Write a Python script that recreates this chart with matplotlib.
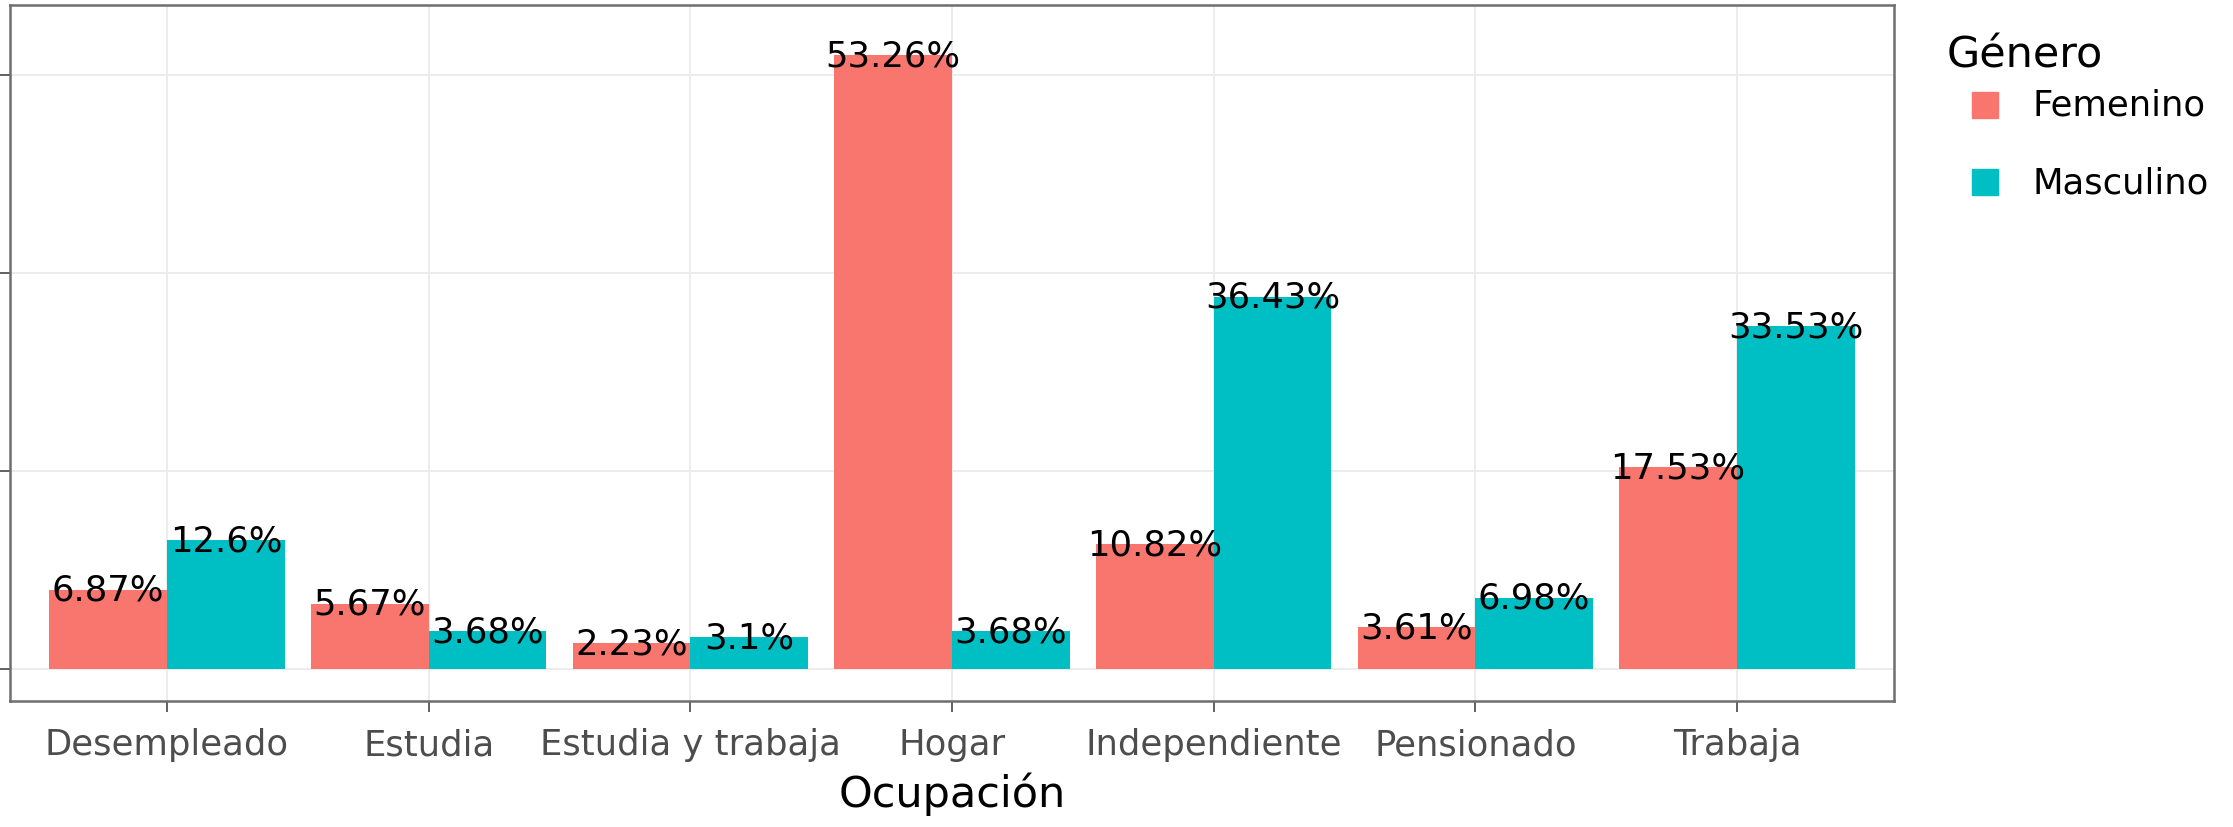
import numpy as np
import matplotlib.pyplot as plt
from matplotlib.patches import Rectangle

# ---------------------------
# Datos (conteos por ocupación y género)
# ---------------------------
ocupaciones = ["Desempleado", "Estudia", "Estudia y trabaja", "Hogar",
               "Independiente", "Pensionado", "Trabaja"]
generos = ["Femenino", "Masculino"]
femenino = [40, 33, 13, 310, 63, 21, 102]
masculino = [65, 19, 16, 19, 188, 36, 173]
etiq_fem = ["6.87%", "5.67%", "2.23%", "53.26%", "10.82%", "3.61%", "17.53%"]
etiq_mas = ["12.6%", "3.68%", "3.1%", "3.68%", "36.43%", "6.98%", "33.53%"]
colores = ["#F8766D", "#00BFC4"]
yticks = [0, 100, 200, 300]

W, H = 2233, 828
fig = plt.figure(figsize=(W / 100, H / 100), dpi=100)
ax = fig.add_axes([10 / W, 1 - 702 / H, (1894 - 10) / W, (702 - 6) / H])

x = np.arange(len(ocupaciones))
ancho = 0.45
series = [femenino, masculino]
etiquetas = [etiq_fem, etiq_mas]

for i, (vals, labs) in enumerate(zip(series, etiquetas)):
    pos = x + (i - 0.5) * ancho
    ax.bar(pos, vals, width=ancho, color=colores[i], zorder=2)
    for p, v, t in zip(pos, vals, labs):
        ax.text(p, v, t, ha="center", va="center", fontsize=25.5,
                color="black", zorder=3)

# ---------------------------
# Ejes y estilo
# ---------------------------
ax.set_xlim(-0.6, len(ocupaciones) - 0.4)
ax.set_ylim(-16.2, 335.4)
ax.set_xticks(x)
ax.set_xticklabels(ocupaciones, fontsize=25.5, color="#4D4D4D")
ax.set_yticks(yticks)
ax.set_yticklabels([])
ax.tick_params(axis="x", length=8, width=1.3, color="#555555", pad=11)
ax.tick_params(axis="y", length=8, width=1.3, color="#555555")
ax.grid(True, color="#EBEBEB", lw=1.3, zorder=0)
ax.set_axisbelow(True)
for s in ax.spines.values():
    s.set_color("#6E6E6E")
    s.set_linewidth(1.8)
ax.set_xlabel("Ocupación", fontsize=31, color="black", labelpad=7)

# ---------------------------
# Leyenda
# ---------------------------
fig.text(1947 / W, 1 - 67 / H, "Género", fontsize=31, va="baseline",
         ha="left")
filas_y = [93, 170]
for g, c, yy in zip(generos, colores, filas_y):
    fig.add_artist(Rectangle((1972 / W, 1 - (yy + 26) / H), 26 / W, 26 / H,
                             transform=fig.transFigure, color=c))
    fig.text(2032 / W, 1 - (yy + 13) / H, g, fontsize=25.5, va="center",
             ha="left")

fig.savefig("out.png", dpi=100)
